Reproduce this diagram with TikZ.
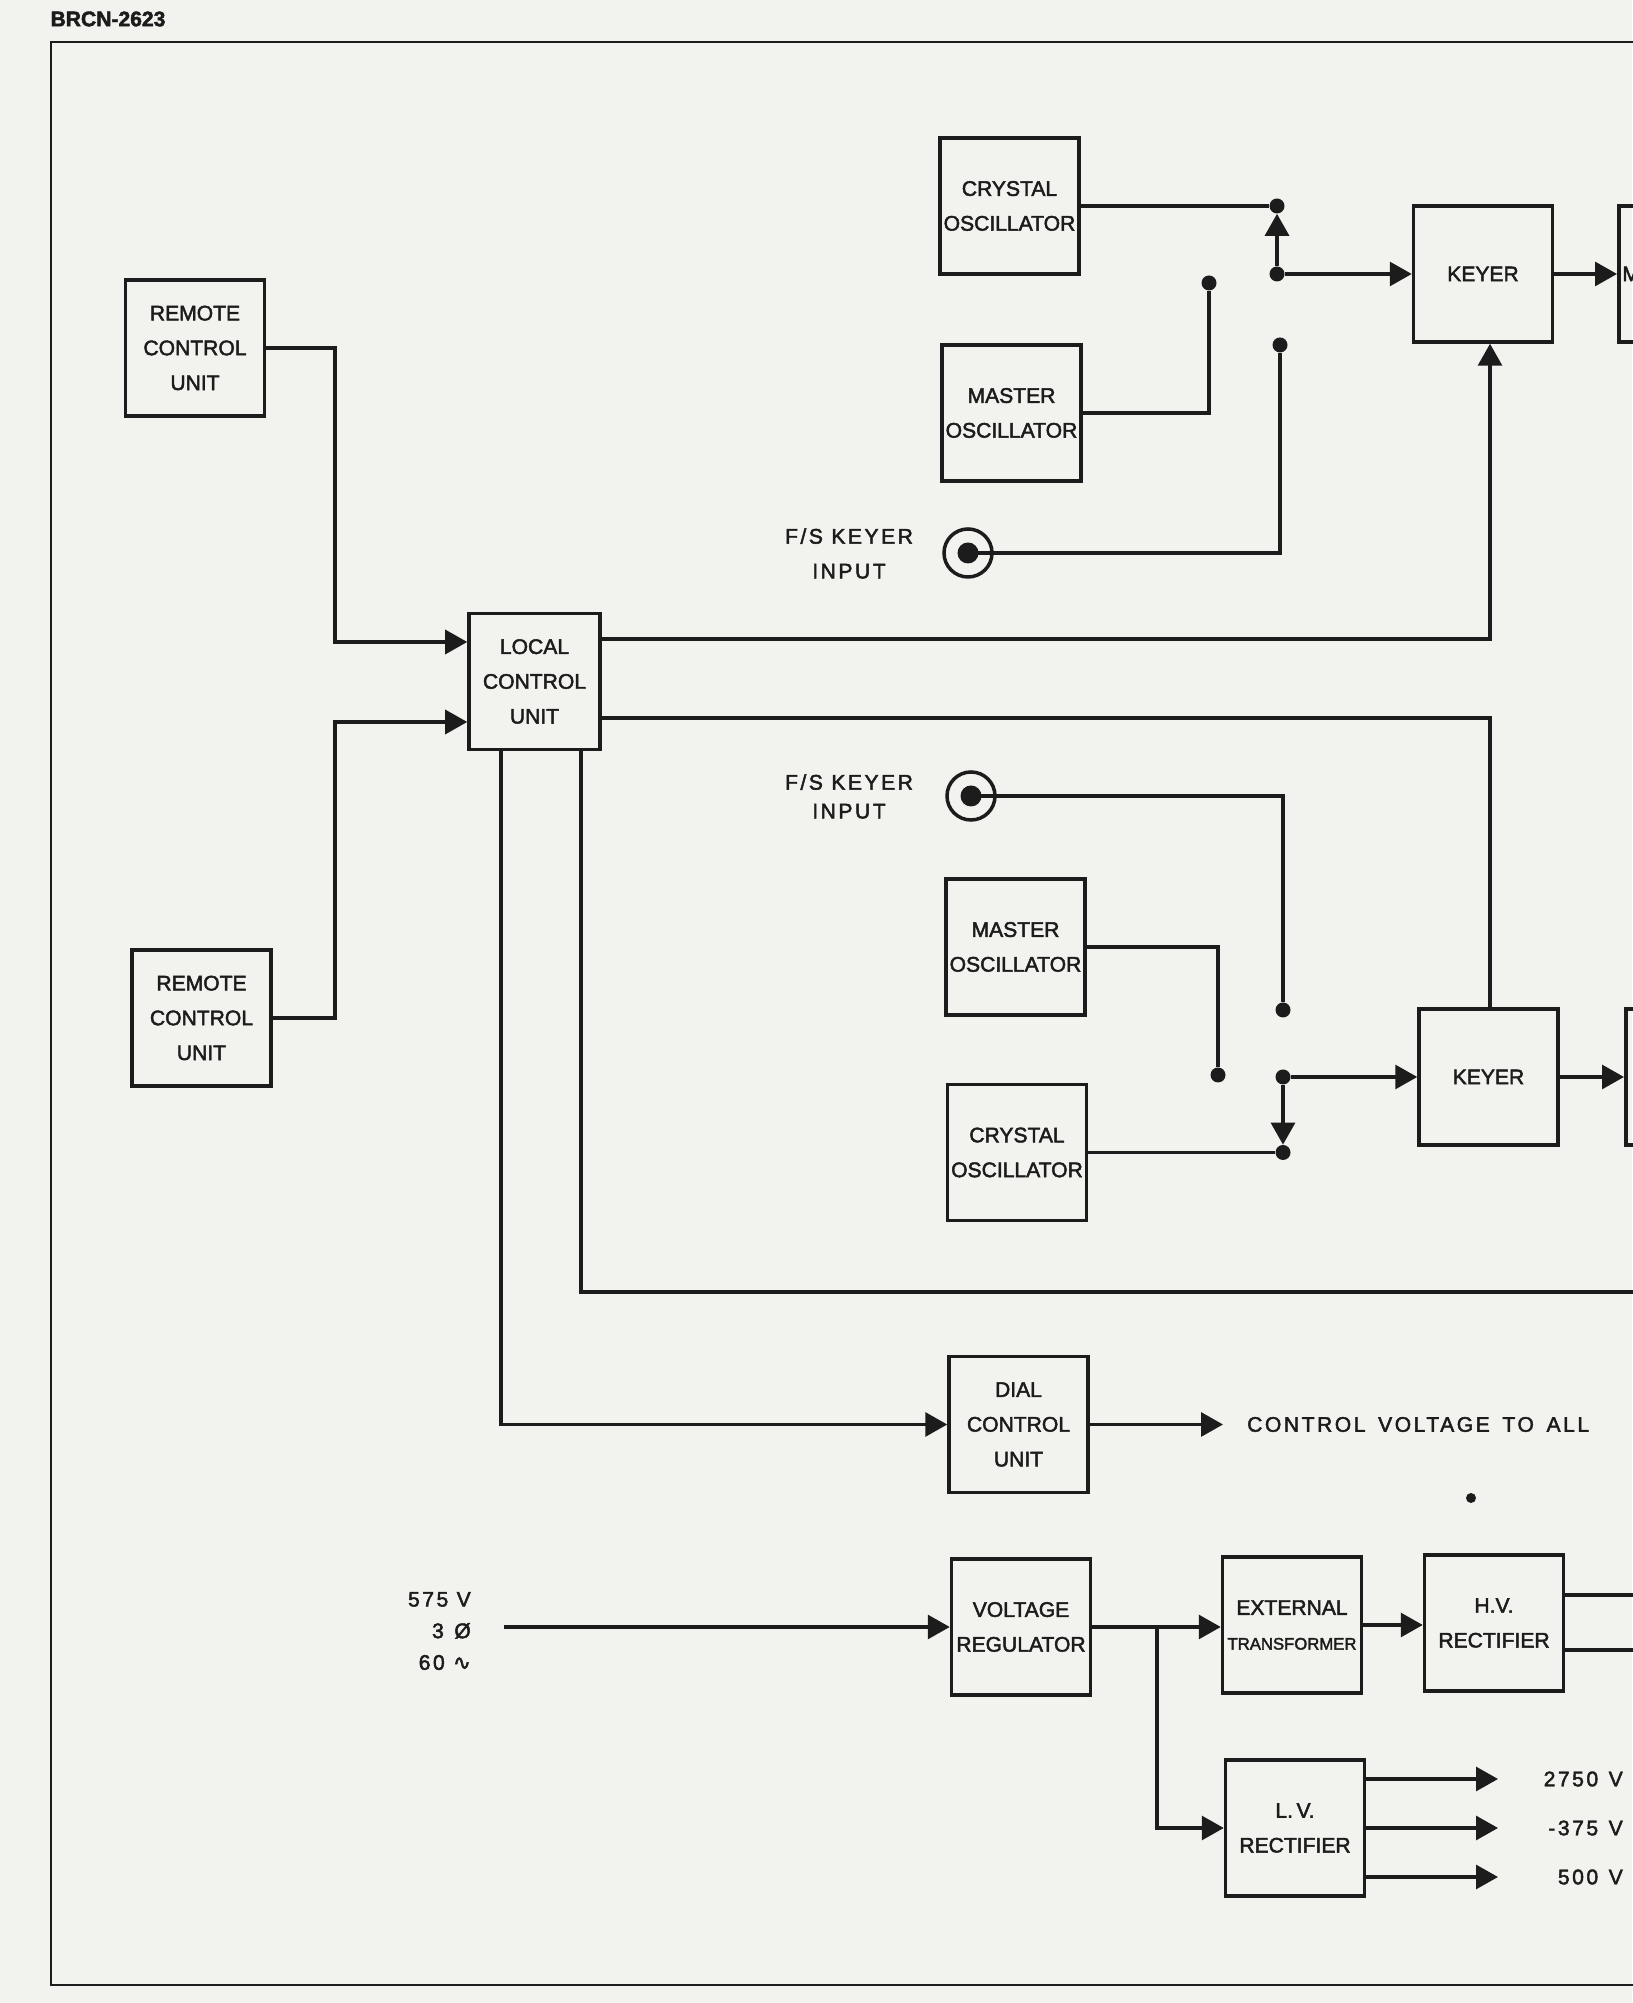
\documentclass[tikz,border=0pt]{standalone}
\usepackage{fontspec}
\setmainfont[FakeBold=2.2]{Liberation Sans}
\newfontfamily\widefont[LetterSpace=12, FakeBold=2.2]{Liberation Sans}
\newfontfamily\symbfont[FakeBold=2.2]{DejaVu Sans}
\usetikzlibrary{arrows.meta,calc}
\definecolor{paper}{RGB}{242,242,239}
\definecolor{ink}{RGB}{28,28,28}

\begin{document}
\begin{tikzpicture}[
	unitbox/.style={draw=ink, line width=2pt, minimum width=2.78cm, minimum height=2.72cm, align=center, inner sep=1pt, text=ink, font=\fontsize{12}{19.8}\selectfont},
	wire/.style={draw=ink, line width=1.8pt},
	feed/.style={wire, -{Triangle[length=0.44cm, width=0.48cm]}},
	tap/.style={circle, fill=ink, inner sep=0pt, minimum size=0.3cm},
	jack/.style={circle, draw=ink, line width=2pt, inner sep=0pt, minimum size=0.96cm, path picture={\fill[ink] (path picture bounding box.center) circle (0.21cm);}},
	tag/.style={text=ink, align=center, font=\widefont\fontsize{12}{19.8}\selectfont},
]
	% Sheet and frame:
	\fill[paper] (0,0) rectangle (32.64,40.06);
	\useasboundingbox (0,0) rectangle (32.64,40.06);
	\draw[ink, line width=1.3pt] (33.6,39.22) -- (1.02,39.22) -- (1.02,0.36) -- (33.6,0.36);
	\node[text=ink, font=\bfseries\fontsize{12}{14}\selectfont] (docid) at (2.16,39.68) {BRCN-2623};

	% Blocks:
	\node[unitbox] (co1) at (20.19,35.94) {CRYSTAL\\OSCILLATOR};
	\node[unitbox] (mo1) at (20.23,31.80) {MASTER\\OSCILLATOR};
	\node[unitbox] (k1) at (29.66,34.58) {KEYER};
	\node[unitbox, anchor=west] (p1) at (32.34,34.58) {};
	\node[text=ink, anchor=west, inner sep=0pt, font=\fontsize{12}{14}\selectfont] (p1txt) at (32.44,34.58) {M};
	\node[unitbox] (rc1) at (3.90,33.10) {REMOTE\\CONTROL\\UNIT};
	\node[unitbox, minimum width=2.62cm] (lcu) at (10.69,26.43) {LOCAL\\CONTROL\\UNIT};
	\node[unitbox] (rc2) at (4.03,19.70) {REMOTE\\CONTROL\\UNIT};
	\node[unitbox] (mo2) at (20.31,21.12) {MASTER\\OSCILLATOR};
	\node[unitbox] (co2) at (20.34,17.01) {CRYSTAL\\OSCILLATOR};
	\node[unitbox] (k2) at (29.77,18.52) {KEYER};
	\node[unitbox, anchor=west] (p2) at (32.48,18.52) {};
	\node[unitbox] (dcu) at (20.37,11.57) {DIAL\\CONTROL\\UNIT};
	\node[unitbox] (vr) at (20.42,7.52) {VOLTAGE\\REGULATOR};
	\node[unitbox] (et) at (25.84,7.56) {EXTERNAL\\{\fontsize{9.5}{19.8}\selectfont TRANSFORMER}};
	\node[unitbox] (hv) at (29.88,7.60) {H.V.\\RECTIFIER};
	\node[unitbox] (lv) at (25.90,3.50) {L.\,V.\\RECTIFIER};

	% Switch contacts and keyer inputs:
	\node[tap] (d1) at (25.54,35.94) {};
	\node[tap] (d2) at (25.54,34.58) {};
	\node[tap] (d3) at (24.18,34.40) {};
	\node[tap] (d4) at (25.60,33.16) {};
	\node[jack] (j1) at (19.36,29.00) {};
	\node[tag] (j1lbl) at (16.98,28.99) {F/S KEYER\\INPUT};
	\node[jack] (j2) at (19.42,24.14) {};
	\node[tag] (j2lbl) at (16.98,24.13) {F/S KEYER\\[-0.12cm]INPUT};
	\node[tap] (d5) at (25.66,19.86) {};
	\node[tap] (d6) at (24.36,18.56) {};
	\node[tap] (d7) at (25.66,18.52) {};
	\node[tap] (d8) at (25.66,17.01) {};

	% Tie points:
	\coordinate (lcuin1) at ($(lcu.west)+(0,0.79)$);
	\coordinate (lcuin2) at ($(lcu.west)+(0,-0.81)$);
	\coordinate (lcuout1) at ($(lcu.east)+(0,0.85)$);
	\coordinate (lcuout2) at ($(lcu.east)+(0,-0.73)$);
	\coordinate (lcudown1) at ($(lcu.south)+(-0.67,0)$);
	\coordinate (lcudown2) at ($(lcu.south)+(0.93,0)$);
	\coordinate (busl) at (6.70,0);
	\coordinate (busb) at (33.6,14.22);
	\coordinate (cvtip) at (24.46,11.57);
	\coordinate (mainsin) at (10.08,7.52);
	\coordinate (split) at (23.14,7.52);

	% Upper keyer chain:
	\draw[wire] (co1.east) -- (d1);
	\draw[feed] (d2) -- (d1.south);
	\draw[feed] (d2) -- (k1.west);
	\draw[wire] (mo1.east) -| (d3);
	\draw[wire] (j1.center) -| (d4);
	\draw[feed] (k1.east) -- (p1.west);

	% Control units:
	\draw[feed] (rc1.east) -| (busl |- lcuin1) -- (lcuin1);
	\draw[feed] (rc2.east) -| (busl |- lcuin2) -- (lcuin2);
	\draw[feed] (lcuout1) -| ($(k1.south)+(0.14,0)$);
	\draw[wire] (lcuout2) -| ($(k2.north)+(0.03,0)$);
	\draw[feed] (lcudown1) |- (dcu.west);
	\draw[wire] (lcudown2) |- (busb);

	% Lower keyer chain:
	\draw[wire] (j2.center) -| (d5);
	\draw[wire] (mo2.east) -| (d6);
	\draw[feed] (d7) -- (k2.west);
	\draw[feed] (d7) -- (d8.north);
	\draw[wire] (co2.east) -- (d8);
	\draw[feed] (k2.east) -- (p2.west);

	% Dial control:
	\draw[feed] (dcu.east) -- (cvtip);
	\node[tag, anchor=west] (cvtext) at (24.82,11.57) {CONTROL\hspace{0.6em}VOLTAGE\hspace{0.6em}TO\hspace{0.6em}ALL};
	\fill[ink] (29.42,10.10) circle (0.1);

	% Power supply:
	\node[tag, align=right, anchor=east, font=\widefont\fontsize{12}{18}\selectfont] (mains) at (9.54,7.44) {575 V\\3\hspace{0.5em}Ø\\60 {\symbfont ∿}};
	\draw[feed] (mainsin) -- (vr.west);
	\draw[feed] (vr.east) -- (vr.east -| et.west);
	\draw[feed] (split) |- (lv.west);
	\draw[feed] (et.east) -- (et.east -| hv.west);
	\draw[wire] ($(hv.east)+(0,0.56)$) -- ($(hv.east)+(4,0.56)$);
	\draw[wire] ($(hv.east)+(0,-0.54)$) -- ($(hv.east)+(4,-0.54)$);
	\foreach \dy/\volt [count=\i] in {0.98/2750\hspace{0.5em}V, 0/-375\hspace{0.5em}V, -0.98/500\hspace{0.5em}V} {
		\node[tag, anchor=east] (rail\i) at (32.58,{3.50+\dy}) {\volt};
		\draw[feed] ($(lv.east)+(0,\dy)$) -- (29.96,{3.50+\dy});
	}
\end{tikzpicture}
\end{document}
